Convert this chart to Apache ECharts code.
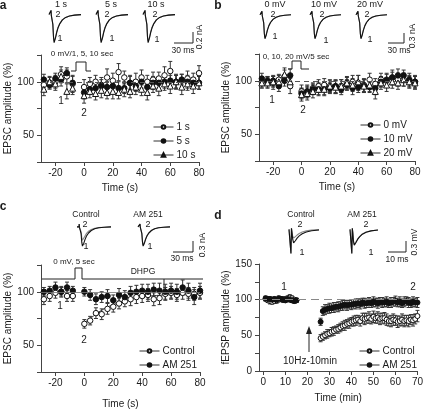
<!DOCTYPE html>
<html><head><meta charset="utf-8">
<script src="https://cdn.jsdelivr.net/npm/echarts@6/dist/echarts.min.js"></script>
<style>html,body{margin:0;padding:0;background:#fff}#chart{width:426px;height:410px}</style>
</head><body><div id="chart"></div>
<script>
// ---------------- DATA ----------------
const abcTime = [-28,-24,-20,-16,-12,-8,0,4,8,12,16,20,24,28,32,36,40,44,48,52,56,60,64,68,72,76,80];
const xTicksS = [-20,0,20,40,60,80];
const yLabelsEPSC = [50,100];
const xTicksMin = [0,10,20,30,40,50,60,70];
const yLabelsF = [0,50,100,150];

// panel a
const a1s  = [97,99,100,107,105,98, 95,98,100,97,104,101,109,104,99,100,104,100,102,103,106,110,100,101,103,102,108];
const a5s  = [102,97,103,102,108,99, 90,93,94,96,95,96,94,94,99,96,100,95,99,99,100,101,100,102,100,99,99];
const a10s = [93,100,98,105,91,94, 87,91,89,92,90,91,90,93,91,95,93,90,96,94,98,96,100,95,98,96,99];
const a1sErr  = [6,5,6,7,6,8, 7,6,6,7,8,7,8,6,7,8,7,6,7,6,8,9,7,6,7,6,7];
const a5sErr  = [5,4,5,6,5,6, 6,5,5,6,5,6,6,5,6,5,6,5,6,5,6,5,6,5,6,5,6];
const a10sErr = [6,5,6,6,7,6, 7,6,6,7,6,7,6,7,6,7,6,7,6,7,6,7,6,7,6,7,6];
// panel b
const b0  = [99,99,98,101,104,95, 90,90,93,95,96,95,94,95,98,99,98,96,101,97,101,100,103,101,101,99,99];
const b10 = [102,100,100,95,100,105, 88,90,92,92,92,93,95,92,96,93,94,95,94,93,99,101,103,105,105,101,99];
const b20 = [98,98,99,99,106,99, 87,88,90,92,92,95,94,95,98,96,99,95,96,90,98,96,99,98,101,99,98];
const b0Err  = [5,5,6,5,6,7, 6,6,5,6,6,5,6,6,5,6,7,6,6,5,6,6,7,6,6,5,6];
const b10Err = [5,4,5,5,5,6, 5,5,5,5,6,5,6,5,5,6,5,6,5,6,5,6,5,6,5,6,5];
const b20Err = [5,5,5,6,6,6, 6,6,6,6,5,6,6,6,6,6,6,6,6,7,6,6,6,6,6,6,6];
// panel c
const cControl = [93,96,99,100,96,96, 70,73,80,79,84,86,89,91,93,95,96,97,93,94,98,99,97,99,98,98,99];
const cAM      = [100,101,104,100,104,101, 100,97,93,95,96,92,97,95,99,100,101,100,102,101,100,101,100,104,101,95,101];
const cControlErr = [5,5,5,5,5,5, 4,4,5,5,5,5,5,5,6,6,6,6,6,6,6,6,6,6,6,6,6];
const cAMErr      = [4,4,5,4,5,4, 4,5,5,5,6,5,6,6,6,6,6,7,6,7,7,7,7,7,7,7,7];
const cFitTime = [-1,2,5,10,15,20,25,30,40,50,60,70,80];
const cFitVal  = [70,73,76,81,85,88,90.5,92.5,95,96.5,97.3,97.8,98];
// panel d
const dTime = [1,2,3,4,5,6,7,8,9,10,11,12,13,14,15,26,27,28,29,30,31,32,33,34,35,36,37,38,39,40,41,42,43,44,45,46,47,48,49,50,51,52,53,54,55,56,57,58,59,60,61,62,63,64,65,66,67,68,69,70];
const dControl = [101,99,98,97,98,99,100,101,100,101,102,103,102,100,99, 46,48,50,52,53,55,56,58,59,61,63,64,66,67,69,70,71,72,70,74,73,74,75,73,76,74,75,73,74,74,72,70,70,72,71,69,70,72,70,71,70,72,71,73,77];
const dAM = [102,101,101,100,101,100,102,101,100,99,101,100,99,98,99, 69,84,86,87,88,88,89,90,90,91,92,93,92,93,93,94,94,95,94,96,95,95,96,95,97,96,95,97,96,96,97,95,96,97,98,96,97,95,97,98,96,95,97,96,96];
const dControlErr = [3,3,4,3,3,4,3,3,4,3,3,4,3,3,3, 5,5,5,6,5,6,6,5,6,6,6,7,6,7,6,7,7,6,7,7,8,7,8,7,8,7,8,8,7,8,8,7,8,8,7,8,7,8,8,7,8,7,8,7,8];
const dAMErr = [3,3,3,3,3,3,3,3,3,3,3,3,3,3,3, 5,6,7,6,7,6,7,6,7,6,7,6,7,6,7,6,7,6,7,6,7,6,7,6,7,6,7,6,7,6,7,6,7,6,7,6,7,6,7,6,7,6,7,6,7];

// example traces (ms, nA normalised)
const traceTime = [0,3,3.2,3.6,4.5,6,7,8,9,10,12,14,17,21,26,32,40,50];
const epsc1 = [0,0,0.15,-0.03,0,-0.35,-0.8,-1.0,-0.96,-0.85,-0.64,-0.48,-0.32,-0.19,-0.1,-0.05,-0.02,0];
const epsc2 = [0,0,0.15,-0.03,0,-0.33,-0.76,-0.95,-0.92,-0.82,-0.62,-0.46,-0.31,-0.18,-0.1,-0.05,-0.02,0];
const epscCtl2 = [0,0,0.15,-0.03,0,-0.25,-0.55,-0.7,-0.68,-0.6,-0.46,-0.34,-0.23,-0.14,-0.08,-0.04,-0.02,0];
const fTime = [0,1,1.1,1.25,1.4,1.7,2.1,2.6,3.1,3.6,4.6,5.8,7.5,9.8,12.8,17];
const fCtl1 = [0,0,-1.1,-1.05,0.05,-0.15,-0.45,-0.62,-0.6,-0.52,-0.4,-0.3,-0.2,-0.12,-0.06,-0.03];
const fCtl2 = [0,0,-1.1,-1.05,0.05,-0.12,-0.3,-0.4,-0.39,-0.34,-0.26,-0.19,-0.12,-0.07,-0.03,-0.01];
const fAm1  = [0,0,-1.1,-1.05,0.05,-0.15,-0.55,-0.72,-0.7,-0.6,-0.46,-0.34,-0.22,-0.13,-0.07,-0.03];
const fAm2  = [0,0,-1.1,-1.05,0.05,-0.15,-0.53,-0.7,-0.68,-0.59,-0.45,-0.33,-0.21,-0.12,-0.06,-0.03];

// ---------------- BUILD ----------------
const FONT = "'Liberation Sans', Arial, sans-serif";
const AX = '#444', TXT = '#1a1a1a';
const zip = (xs, ys) => xs.map((x, i) => [x, ys[i]]);

const grid = [
  {left:41, top:55, width:158, height:107},
  {left:259, top:54, width:156, height:107},
  {left:41, top:265, width:159, height:107},
  {left:259, top:264, width:161, height:107},
  {left:49, top:9, width:32, height:35},
  {left:96, top:9, width:32, height:35},
  {left:143, top:9, width:32, height:35},
  {left:260, top:10, width:31, height:30},
  {left:310, top:10, width:31, height:30},
  {left:356, top:10, width:31, height:30},
  {left:77, top:223, width:34, height:24},
  {left:138, top:223, width:32, height:24},
  {left:289, top:225, width:30, height:29.5},
  {left:350, top:225, width:28, height:29.5}
];

function mainX(gi, min, max, ticks, name, gap) {
  return {gridIndex:gi, type:'value', min, max, name, nameLocation:'middle', nameGap:gap,
    nameTextStyle:{fontSize:10, fontFamily:FONT, color:TXT},
    axisLine:{show:true, onZero:false, lineStyle:{color:AX, width:1}},
    axisTick:{show:true, length:4, customValues:ticks, lineStyle:{color:AX}},
    axisLabel:{customValues:ticks, fontSize:10, fontFamily:FONT, color:TXT, margin:6},
    splitLine:{show:false}};
}
function mainY(gi, min, max, interval, labels, name, gap) {
  return {gridIndex:gi, type:'value', min, max, interval, name, nameLocation:'middle', nameGap:gap,
    nameTextStyle:{fontSize:10, fontFamily:FONT, color:TXT},
    axisLine:{show:true, onZero:false, lineStyle:{color:AX, width:1}},
    axisTick:{show:true, length:4, lineStyle:{color:AX}},
    axisLabel:{customValues:labels, fontSize:10, fontFamily:FONT, color:TXT, margin:7},
    splitLine:{show:false}};
}
const xAxis = [
  mainX(0, -30, 80, xTicksS, 'Time (s)', 21),
  mainX(1, -30, 80, xTicksS, 'Time (s)', 21),
  mainX(2, -30, 80, xTicksS, 'Time (s)', 27),
  mainX(3, -2, 70, xTicksMin, 'Time (min)', 22)
];
const yAxis = [
  mainY(0, 25, 125, 25, yLabelsEPSC, 'EPSC amplitude (%)', 26),
  mainY(1, 25, 125, 25, yLabelsEPSC, 'EPSC amplitude (%)', 26),
  mainY(2, 25, 125, 25, yLabelsEPSC, 'EPSC amplitude (%)', 26),
  mainY(3, 0, 150, 25, yLabelsF, 'fEPSP amplitude (%)', 26)
];
const traceX = [50,50,50,50,50,50,50,50,17,17];
for (let i = 0; i < 10; i++) {
  xAxis.push({gridIndex:4+i, type:'value', min:0, max:traceX[i], show:false});
  const isF = i >= 8;
  yAxis.push({gridIndex:4+i, type:'value', min:isF ? -1.15 : -1.05, max:0.2, show:false});
}

function pts(name, gi, times, vals, sym, fill, size, extra) {
  return Object.assign({name, type:'line', xAxisIndex:gi, yAxisIndex:gi, data:zip(times, vals),
    symbol:sym, symbolSize:size, showSymbol:true, showAllSymbol:true,
    lineStyle:{opacity:0}, itemStyle:{color:fill, borderColor:'#111', borderWidth:1}, z:4,
    emphasis:{disabled:true}}, extra || {});
}
function errs(gi, times, vals, es) {
  return {type:'custom', xAxisIndex:gi, yAxisIndex:gi, z:2, silent:true,
    data: times.map((t, i) => [t, vals[i], es[i]]),
    renderItem: (params, api) => {
      const t = api.value(0), v = api.value(1), e = api.value(2);
      const top = api.coord([t, v + e]), bot = api.coord([t, v - e]);
      const cw = 2, st = {stroke:'#333', lineWidth:1};
      return {type:'group', children:[
        {type:'line', shape:{x1:top[0], y1:top[1], x2:bot[0], y2:bot[1]}, style:st},
        {type:'line', shape:{x1:top[0]-cw, y1:top[1], x2:top[0]+cw, y2:top[1]}, style:st},
        {type:'line', shape:{x1:bot[0]-cw, y1:bot[1], x2:bot[0]+cw, y2:bot[1]}, style:st}
      ]};
    }};
}
function ref(style) {
  return {silent:true, symbol:'none', label:{show:false}, lineStyle:style, data:[{yAxis:100}]};
}
function tr(gi, times, vals, color) {
  return {type:'line', xAxisIndex:gi, yAxisIndex:gi, data:zip(times, vals), symbol:'none',
    silent:true, lineStyle:{color, width:1.1}, z:3};
}

const W = '#ffffff', K = '#111111';
const series = [
  errs(0, abcTime, a1s, a1sErr), errs(0, abcTime, a5s, a5sErr), errs(0, abcTime, a10s, a10sErr),
  pts('1 s', 0, abcTime, a1s, 'circle', W, 5.5, {markLine: ref({type:[5,4], color:'#555', width:1})}),
  pts('5 s', 0, abcTime, a5s, 'circle', K, 5.5),
  pts('10 s', 0, abcTime, a10s, 'triangle', W, 6),
  errs(1, abcTime, b0, b0Err), errs(1, abcTime, b10, b10Err), errs(1, abcTime, b20, b20Err),
  pts('0 mV', 1, abcTime, b0, 'circle', W, 5.5, {markLine: ref({type:[5,4], color:'#555', width:1})}),
  pts('10 mV', 1, abcTime, b10, 'circle', K, 5.5),
  pts('20 mV', 1, abcTime, b20, 'triangle', W, 6),
  errs(2, abcTime, cControl, cControlErr), errs(2, abcTime, cAM, cAMErr),
  {type:'line', xAxisIndex:2, yAxisIndex:2, data:zip(cFitTime, cFitVal), smooth:true, symbol:'none',
   silent:true, lineStyle:{color:'#333', width:1}, z:3},
  pts('Control', 2, abcTime, cControl, 'circle', W, 5.5, {markLine: ref({type:'solid', color:'#777', width:0.8})}),
  pts('AM 251', 2, abcTime, cAM, 'circle', K, 5.5),
  errs(3, dTime, dControl, dControlErr), errs(3, dTime, dAM, dAMErr),
  pts('Control', 3, dTime, dControl, 'circle', W, 5, {markLine: ref({type:[8,5], color:'#888', width:1})}),
  pts('AM 251', 3, dTime, dAM, 'circle', K, 5),
  tr(4, traceTime, epsc2, '#888'), tr(4, traceTime, epsc1, K),
  tr(5, traceTime, epsc2, '#888'), tr(5, traceTime, epsc1, K),
  tr(6, traceTime, epsc2, '#888'), tr(6, traceTime, epsc1, K),
  tr(7, traceTime, epsc2, '#888'), tr(7, traceTime, epsc1, K),
  tr(8, traceTime, epsc2, '#888'), tr(8, traceTime, epsc1, K),
  tr(9, traceTime, epsc2, '#888'), tr(9, traceTime, epsc1, K),
  tr(10, traceTime, epscCtl2, '#888'), tr(10, traceTime, epsc1, K),
  tr(11, traceTime, epsc2, '#888'), tr(11, traceTime, epsc1, K),
  tr(12, fTime, fCtl2, '#888'), tr(12, fTime, fCtl1, K),
  tr(13, fTime, fAm2, '#888'), tr(13, fTime, fAm1, K)
];

function leg(names, left, top) {
  return {data:names.map(n => ({name:n, lineStyle:{color:'#333', width:1, opacity:1}})),
    left, top, orient:'vertical', itemWidth:20, itemHeight:4.5, itemGap:4, selectedMode:false,
    textStyle:{fontSize:10, fontFamily:FONT, color:TXT, padding:[0,0,0,-2]}};
}
const legend = [
  leg(['1 s','5 s','10 s'], 148, 117),
  leg(['0 mV','10 mV','20 mV'], 355, 115),
  leg(['Control','AM 251'], 134, 341),
  leg(['Control','AM 251'], 354, 341)
];

function T(x, y, s, o) {
  o = o || {};
  return {type:'text', x, y, rotation:o.rot || 0, silent:true,
    style:{text:s, fontSize:o.size || 9, fontWeight:o.bold ? 'bold' : 'normal', fontFamily:FONT, fill:TXT,
      textAlign:o.align || 'center', textVerticalAlign:'middle', align:o.align || 'center', verticalAlign:'middle'}};
}
function P(points, w) {
  return {type:'polyline', silent:true, shape:{points}, style:{stroke:'#222', lineWidth:w || 1, fill:null}};
}
const R = Math.PI / 2;
const graphic = [
  T(3, 6, 'a', {bold:true, size:12}), T(218, 6, 'b', {bold:true, size:12}),
  T(3, 207, 'c', {bold:true, size:12}), T(218, 216, 'd', {bold:true, size:12}),
  T(61, 5, '1 s'), T(111, 5, '5 s'), T(156, 5, '10 s'),
  T(58, 15, '2'), T(60, 39, '1'), T(107, 15, '2'), T(112, 39, '1'), T(155, 15, '2'), T(157, 40, '1'),
  P([[174,43],[193,43],[193,32]]), T(183, 51, '30 ms', {size:8.5}), T(200, 37, '0.2 nA', {rot:R, size:8.5}),
  T(82, 54, '0 mV/1, 5, 10 sec', {size:8}), P([[71,71],[76,71],[76,62],[86,62],[86,71],[91,71]]),
  T(61, 101, '1', {size:10}), T(84, 113, '2', {size:10}),
  T(275, 5, '0 mV'), T(324, 5, '10 mV'), T(370, 5, '20 mV'),
  T(273, 15, '2'), T(275, 37, '1'), T(322, 15, '2'), T(326, 41, '1'), T(367, 15, '2'), T(370, 40, '1'),
  P([[388,43],[404,43],[404,33]]), T(399, 51, '30 ms', {size:8.5}), T(413, 36, '0.3 nA', {rot:R, size:8.5}),
  T(296, 57, '0, 10, 20 mV/5 sec', {size:8}), P([[288,69],[292,69],[292,61],[301,61],[301,69],[309,69]]),
  T(272, 100, '1', {size:10}), T(303, 110, '2', {size:10}),
  T(86, 215, 'Control', {size:8.5}), T(148, 215, 'AM 251', {size:8.5}),
  T(85, 225, '2'), T(86, 247, '1'), T(148, 225, '2'), T(150, 247, '1'),
  P([[173,252],[193,252],[193,241]]), T(182, 259, '30 ms', {size:8.5}), T(203, 245, '0.3 nA', {rot:R, size:8.5}),
  T(74, 262, '0 mV, 5 sec', {size:8}),
  P([[41,279],[67,279]]), P([[67,279],[75,279],[75,268],[82,268],[82,279],[89,279]]), P([[89,279],[203,279]]),
  P([[164,279],[164,292]]), T(143, 272, 'DHPG', {size:8.5}),
  T(60, 306, '1', {size:10}), T(84, 340, '2', {size:10}),
  T(301, 215, 'Control', {size:8.5}), T(362, 215, 'AM 251', {size:8.5}),
  T(300, 225, '2'), T(302, 253, '1'), T(366, 225, '2'), T(371, 253, '1'),
  P([[388,252],[406,252],[406,241]]), T(397, 260, '10 ms', {size:8.5}), T(415, 242, '0.3 mV', {rot:R, size:8.5}),
  P([[309,352],[309,330]]),
  {type:'polygon', silent:true, shape:{points:[[306,334],[309,326],[312,334]]}, style:{fill:'#222'}},
  T(310, 361, '10Hz-10min', {size:10}),
  T(284, 287, '1', {size:10}), T(413, 287, '2', {size:10})
];

const chart = echarts.init(document.getElementById('chart'));
chart.setOption({animation:false, backgroundColor:'#fff', grid, xAxis, yAxis, series, legend, graphic});
</script></body></html>
